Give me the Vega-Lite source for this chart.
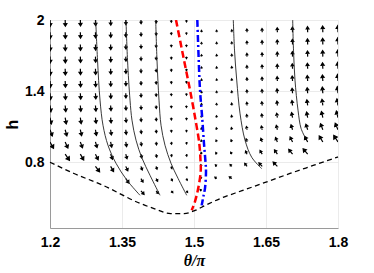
{
  "$schema": "https://vega.github.io/schema/vega-lite/v6.json",
  "width": 288,
  "height": 208,
  "autosize": {"type": "none"},
  "padding": {"left": 50, "top": 20, "right": 36, "bottom": 45},
  "config": {
    "view": {"stroke": null},
    "axis": {
      "grid": true, "gridColor": "#e6e6e6", "gridWidth": 0.8,
      "domainColor": "#9a9a9a", "domainWidth": 1,
      "ticks": false,
      "labelFont": "Liberation Sans", "labelFontWeight": "bold", "labelFontSize": 14, "labelColor": "#000000",
      "titleColor": "#000000", "labelFlush": false
    }
  },
  "layer": [
    {
      "data": {"values": [
        {"t":1.2,"h":2,"a":178,"m":6.5},{"t":1.2,"h":1.897,"a":178,"m":6.5},{"t":1.2,"h":1.794,"a":178,"m":6.5},{"t":1.2,"h":1.691,"a":178,"m":6.5},{"t":1.2,"h":1.588,"a":177,"m":6.5},{"t":1.2,"h":1.485,"a":176,"m":6.5},{"t":1.2,"h":1.382,"a":175,"m":6.5},{"t":1.2,"h":1.279,"a":172,"m":6.6},{"t":1.2,"h":1.176,"a":168,"m":6.7},{"t":1.2,"h":1.074,"a":160,"m":6.9},{"t":1.2,"h":0.971,"a":151,"m":7.5},
        {"t":1.2316,"h":2,"a":178,"m":6.3},{"t":1.2316,"h":1.897,"a":178,"m":6.3},{"t":1.2316,"h":1.794,"a":178,"m":6.3},{"t":1.2316,"h":1.691,"a":178,"m":6.3},{"t":1.2316,"h":1.588,"a":178,"m":6.3},{"t":1.2316,"h":1.485,"a":177,"m":6.3},{"t":1.2316,"h":1.382,"a":176,"m":6.3},{"t":1.2316,"h":1.279,"a":174,"m":6.3},{"t":1.2316,"h":1.176,"a":170,"m":6.4},{"t":1.2316,"h":1.074,"a":165,"m":6.5},{"t":1.2316,"h":0.971,"a":156,"m":6.9},{"t":1.2316,"h":0.868,"a":145,"m":7.7},
        {"t":1.2632,"h":2,"a":178,"m":6.0},{"t":1.2632,"h":1.897,"a":178,"m":6.0},{"t":1.2632,"h":1.794,"a":178,"m":6.0},{"t":1.2632,"h":1.691,"a":178,"m":6.0},{"t":1.2632,"h":1.588,"a":178,"m":6.0},{"t":1.2632,"h":1.485,"a":177,"m":6.0},{"t":1.2632,"h":1.382,"a":176,"m":6.0},{"t":1.2632,"h":1.279,"a":175,"m":6.0},{"t":1.2632,"h":1.176,"a":172,"m":6.1},{"t":1.2632,"h":1.074,"a":168,"m":6.1},{"t":1.2632,"h":0.971,"a":160,"m":6.4},{"t":1.2632,"h":0.868,"a":150,"m":6.9},
        {"t":1.2947,"h":2,"a":178,"m":5.7},{"t":1.2947,"h":1.897,"a":178,"m":5.7},{"t":1.2947,"h":1.794,"a":178,"m":5.7},{"t":1.2947,"h":1.691,"a":178,"m":5.7},{"t":1.2947,"h":1.588,"a":178,"m":5.7},{"t":1.2947,"h":1.485,"a":177,"m":5.7},{"t":1.2947,"h":1.382,"a":176,"m":5.7},{"t":1.2947,"h":1.279,"a":175,"m":5.7},{"t":1.2947,"h":1.176,"a":173,"m":5.7},{"t":1.2947,"h":1.074,"a":170,"m":5.8},{"t":1.2947,"h":0.971,"a":164,"m":5.9},{"t":1.2947,"h":0.868,"a":154,"m":6.3},{"t":1.2947,"h":0.765,"a":143,"m":7.1},
        {"t":1.3263,"h":2,"a":178,"m":5.2},{"t":1.3263,"h":1.897,"a":178,"m":5.2},{"t":1.3263,"h":1.794,"a":178,"m":5.2},{"t":1.3263,"h":1.691,"a":178,"m":5.2},{"t":1.3263,"h":1.588,"a":178,"m":5.2},{"t":1.3263,"h":1.485,"a":178,"m":5.2},{"t":1.3263,"h":1.382,"a":177,"m":5.2},{"t":1.3263,"h":1.279,"a":176,"m":5.2},{"t":1.3263,"h":1.176,"a":175,"m":5.2},{"t":1.3263,"h":1.074,"a":172,"m":5.3},{"t":1.3263,"h":0.971,"a":168,"m":5.3},{"t":1.3263,"h":0.868,"a":160,"m":5.5},{"t":1.3263,"h":0.765,"a":150,"m":6.0},
        {"t":1.3579,"h":2,"a":178,"m":4.5},{"t":1.3579,"h":1.897,"a":178,"m":4.5},{"t":1.3579,"h":1.794,"a":178,"m":4.5},{"t":1.3579,"h":1.691,"a":178,"m":4.5},{"t":1.3579,"h":1.588,"a":178,"m":4.5},{"t":1.3579,"h":1.485,"a":178,"m":4.5},{"t":1.3579,"h":1.382,"a":178,"m":4.5},{"t":1.3579,"h":1.279,"a":177,"m":4.5},{"t":1.3579,"h":1.176,"a":175,"m":4.5},{"t":1.3579,"h":1.074,"a":174,"m":4.5},{"t":1.3579,"h":0.971,"a":170,"m":4.6},{"t":1.3579,"h":0.868,"a":165,"m":4.7},{"t":1.3579,"h":0.765,"a":156,"m":4.9},{"t":1.3579,"h":0.662,"a":145,"m":5.5},
        {"t":1.3895,"h":2,"a":178,"m":3.5},{"t":1.3895,"h":1.897,"a":178,"m":3.5},{"t":1.3895,"h":1.794,"a":178,"m":3.5},{"t":1.3895,"h":1.691,"a":178,"m":3.5},{"t":1.3895,"h":1.588,"a":178,"m":3.5},{"t":1.3895,"h":1.485,"a":178,"m":3.5},{"t":1.3895,"h":1.382,"a":178,"m":3.5},{"t":1.3895,"h":1.279,"a":177,"m":3.5},{"t":1.3895,"h":1.176,"a":176,"m":3.5},{"t":1.3895,"h":1.074,"a":174,"m":3.5},{"t":1.3895,"h":0.971,"a":172,"m":3.5},{"t":1.3895,"h":0.868,"a":168,"m":3.6},{"t":1.3895,"h":0.765,"a":160,"m":3.7},{"t":1.3895,"h":0.662,"a":150,"m":4.0},{"t":1.3895,"h":0.559,"a":139,"m":4.7},
        {"t":1.4211,"h":2,"a":178,"m":2.5},{"t":1.4211,"h":1.897,"a":178,"m":2.5},{"t":1.4211,"h":1.794,"a":178,"m":2.5},{"t":1.4211,"h":1.691,"a":178,"m":2.5},{"t":1.4211,"h":1.588,"a":178,"m":2.5},{"t":1.4211,"h":1.485,"a":178,"m":2.5},{"t":1.4211,"h":1.382,"a":178,"m":2.5},{"t":1.4211,"h":1.279,"a":177,"m":2.5},{"t":1.4211,"h":1.176,"a":176,"m":2.5},{"t":1.4211,"h":1.074,"a":175,"m":2.5},{"t":1.4211,"h":0.971,"a":172,"m":2.5},{"t":1.4211,"h":0.868,"a":169,"m":2.6},{"t":1.4211,"h":0.765,"a":163,"m":2.6},{"t":1.4211,"h":0.662,"a":152,"m":2.8},{"t":1.4211,"h":0.559,"a":141,"m":3.2},
        {"t":1.4526,"h":2,"a":177,"m":1.5},{"t":1.4526,"h":1.897,"a":177,"m":1.5},{"t":1.4526,"h":1.794,"a":177,"m":1.5},{"t":1.4526,"h":1.691,"a":177,"m":1.5},{"t":1.4526,"h":1.588,"a":177,"m":1.5},{"t":1.4526,"h":1.485,"a":177,"m":1.5},{"t":1.4526,"h":1.382,"a":177,"m":1.5},{"t":1.4526,"h":1.279,"a":177,"m":1.5},{"t":1.4526,"h":1.176,"a":176,"m":1.5},{"t":1.4526,"h":1.074,"a":175,"m":1.5},{"t":1.4526,"h":0.971,"a":172,"m":1.5},{"t":1.4526,"h":0.868,"a":169,"m":1.5},{"t":1.4526,"h":0.765,"a":164,"m":1.6},{"t":1.4526,"h":0.662,"a":153,"m":1.7},{"t":1.4526,"h":0.559,"a":141,"m":1.9},
        {"t":1.4842,"h":2,"a":178,"m":0.8},{"t":1.4842,"h":1.897,"a":178,"m":0.8},{"t":1.4842,"h":1.794,"a":178,"m":0.8},{"t":1.4842,"h":1.691,"a":178,"m":0.8},{"t":1.4842,"h":1.588,"a":178,"m":0.8},{"t":1.4842,"h":1.485,"a":178,"m":0.8},{"t":1.4842,"h":1.382,"a":178,"m":0.8},{"t":1.4842,"h":1.279,"a":178,"m":0.8},{"t":1.4842,"h":1.176,"a":176,"m":0.8},{"t":1.4842,"h":1.074,"a":175,"m":0.8},{"t":1.4842,"h":0.971,"a":173,"m":0.8},{"t":1.4842,"h":0.868,"a":170,"m":0.8},{"t":1.4842,"h":0.765,"a":165,"m":0.8},{"t":1.4842,"h":0.662,"a":156,"m":0.9},{"t":1.4842,"h":0.559,"a":144,"m":1.0},
        {"t":1.5158,"h":2,"a":357,"m":0.6},{"t":1.5158,"h":1.897,"a":357,"m":0.6},{"t":1.5158,"h":1.794,"a":357,"m":0.6},{"t":1.5158,"h":1.691,"a":357,"m":0.6},{"t":1.5158,"h":1.588,"a":357,"m":0.6},{"t":1.5158,"h":1.485,"a":357,"m":0.6},{"t":1.5158,"h":1.382,"a":357,"m":0.6},{"t":1.5158,"h":1.279,"a":356,"m":0.6},{"t":1.5158,"h":1.176,"a":354,"m":0.6},{"t":1.5158,"h":1.074,"a":353,"m":0.6},{"t":1.5158,"h":0.971,"a":349,"m":0.6},{"t":1.5158,"h":0.868,"a":344,"m":0.6},{"t":1.5158,"h":0.765,"a":335,"m":0.7},{"t":1.5158,"h":0.662,"a":323,"m":0.8},{"t":1.5158,"h":0.559,"a":310,"m":0.9},
        {"t":1.5474,"h":2,"a":355,"m":0.9},{"t":1.5474,"h":1.897,"a":355,"m":0.9},{"t":1.5474,"h":1.794,"a":355,"m":0.9},{"t":1.5474,"h":1.691,"a":355,"m":0.9},{"t":1.5474,"h":1.588,"a":355,"m":0.9},{"t":1.5474,"h":1.485,"a":355,"m":0.9},{"t":1.5474,"h":1.382,"a":355,"m":0.9},{"t":1.5474,"h":1.279,"a":353,"m":0.9},{"t":1.5474,"h":1.176,"a":351,"m":0.9},{"t":1.5474,"h":1.074,"a":347,"m":0.9},{"t":1.5474,"h":0.971,"a":341,"m":1.0},{"t":1.5474,"h":0.868,"a":332,"m":1.0},{"t":1.5474,"h":0.765,"a":319,"m":1.2},{"t":1.5474,"h":0.662,"a":305,"m":1.6},
        {"t":1.5789,"h":2,"a":356,"m":1.5},{"t":1.5789,"h":1.897,"a":356,"m":1.5},{"t":1.5789,"h":1.794,"a":356,"m":1.5},{"t":1.5789,"h":1.691,"a":356,"m":1.5},{"t":1.5789,"h":1.588,"a":356,"m":1.5},{"t":1.5789,"h":1.485,"a":356,"m":1.5},{"t":1.5789,"h":1.382,"a":355,"m":1.5},{"t":1.5789,"h":1.279,"a":353,"m":1.5},{"t":1.5789,"h":1.176,"a":351,"m":1.5},{"t":1.5789,"h":1.074,"a":347,"m":1.5},{"t":1.5789,"h":0.971,"a":340,"m":1.6},{"t":1.5789,"h":0.868,"a":330,"m":1.7},{"t":1.5789,"h":0.765,"a":316,"m":2.1},{"t":1.5789,"h":0.662,"a":304,"m":2.7},
        {"t":1.6105,"h":2,"a":357,"m":2.8},{"t":1.6105,"h":1.897,"a":357,"m":2.8},{"t":1.6105,"h":1.794,"a":357,"m":2.8},{"t":1.6105,"h":1.691,"a":357,"m":2.8},{"t":1.6105,"h":1.588,"a":357,"m":2.8},{"t":1.6105,"h":1.485,"a":357,"m":2.8},{"t":1.6105,"h":1.382,"a":356,"m":2.8},{"t":1.6105,"h":1.279,"a":355,"m":2.8},{"t":1.6105,"h":1.176,"a":353,"m":2.8},{"t":1.6105,"h":1.074,"a":349,"m":2.9},{"t":1.6105,"h":0.971,"a":344,"m":2.9},{"t":1.6105,"h":0.868,"a":334,"m":3.1},{"t":1.6105,"h":0.765,"a":322,"m":3.6},
        {"t":1.6421,"h":2,"a":357,"m":3.5},{"t":1.6421,"h":1.897,"a":357,"m":3.5},{"t":1.6421,"h":1.794,"a":357,"m":3.5},{"t":1.6421,"h":1.691,"a":357,"m":3.5},{"t":1.6421,"h":1.588,"a":357,"m":3.5},{"t":1.6421,"h":1.485,"a":357,"m":3.5},{"t":1.6421,"h":1.382,"a":356,"m":3.5},{"t":1.6421,"h":1.279,"a":354,"m":3.5},{"t":1.6421,"h":1.176,"a":352,"m":3.5},{"t":1.6421,"h":1.074,"a":347,"m":3.6},{"t":1.6421,"h":0.971,"a":340,"m":3.7},{"t":1.6421,"h":0.868,"a":329,"m":4.1},{"t":1.6421,"h":0.765,"a":317,"m":4.8},
        {"t":1.6737,"h":2,"a":358,"m":4.3},{"t":1.6737,"h":1.897,"a":358,"m":4.3},{"t":1.6737,"h":1.794,"a":358,"m":4.3},{"t":1.6737,"h":1.691,"a":358,"m":4.3},{"t":1.6737,"h":1.588,"a":358,"m":4.3},{"t":1.6737,"h":1.485,"a":357,"m":4.3},{"t":1.6737,"h":1.382,"a":355,"m":4.3},{"t":1.6737,"h":1.279,"a":354,"m":4.3},{"t":1.6737,"h":1.176,"a":351,"m":4.4},{"t":1.6737,"h":1.074,"a":346,"m":4.4},{"t":1.6737,"h":0.971,"a":337,"m":4.7},{"t":1.6737,"h":0.868,"a":326,"m":5.2},{"t":1.6737,"h":0.765,"a":315,"m":6.1},
        {"t":1.7053,"h":2,"a":358,"m":5.0},{"t":1.7053,"h":1.897,"a":358,"m":5.0},{"t":1.7053,"h":1.794,"a":358,"m":5.0},{"t":1.7053,"h":1.691,"a":358,"m":5.0},{"t":1.7053,"h":1.588,"a":357,"m":5.0},{"t":1.7053,"h":1.485,"a":356,"m":5.0},{"t":1.7053,"h":1.382,"a":355,"m":5.0},{"t":1.7053,"h":1.279,"a":353,"m":5.0},{"t":1.7053,"h":1.176,"a":349,"m":5.1},{"t":1.7053,"h":1.074,"a":343,"m":5.2},{"t":1.7053,"h":0.971,"a":334,"m":5.6},{"t":1.7053,"h":0.868,"a":322,"m":6.3},
        {"t":1.7368,"h":2,"a":358,"m":5.6},{"t":1.7368,"h":1.897,"a":358,"m":5.6},{"t":1.7368,"h":1.794,"a":358,"m":5.6},{"t":1.7368,"h":1.691,"a":358,"m":5.6},{"t":1.7368,"h":1.588,"a":357,"m":5.6},{"t":1.7368,"h":1.485,"a":356,"m":5.6},{"t":1.7368,"h":1.382,"a":355,"m":5.6},{"t":1.7368,"h":1.279,"a":352,"m":5.7},{"t":1.7368,"h":1.176,"a":349,"m":5.7},{"t":1.7368,"h":1.074,"a":342,"m":5.9},{"t":1.7368,"h":0.971,"a":332,"m":6.4},{"t":1.7368,"h":0.868,"a":320,"m":7.3},
        {"t":1.7684,"h":2,"a":358,"m":6.2},{"t":1.7684,"h":1.897,"a":358,"m":6.2},{"t":1.7684,"h":1.794,"a":358,"m":6.2},{"t":1.7684,"h":1.691,"a":358,"m":6.2},{"t":1.7684,"h":1.588,"a":357,"m":6.2},{"t":1.7684,"h":1.485,"a":356,"m":6.2},{"t":1.7684,"h":1.382,"a":355,"m":6.2},{"t":1.7684,"h":1.279,"a":352,"m":6.3},{"t":1.7684,"h":1.176,"a":347,"m":6.4},{"t":1.7684,"h":1.074,"a":339,"m":6.6},{"t":1.7684,"h":0.971,"a":329,"m":7.2},
        {"t":1.8,"h":2,"a":358,"m":6.8},{"t":1.8,"h":1.897,"a":358,"m":6.8},{"t":1.8,"h":1.794,"a":358,"m":6.8},{"t":1.8,"h":1.691,"a":358,"m":6.8},{"t":1.8,"h":1.588,"a":357,"m":6.8},{"t":1.8,"h":1.485,"a":356,"m":6.8},{"t":1.8,"h":1.382,"a":354,"m":6.8},{"t":1.8,"h":1.279,"a":351,"m":6.9},{"t":1.8,"h":1.176,"a":346,"m":7.0},{"t":1.8,"h":1.074,"a":337,"m":7.4},{"t":1.8,"h":0.971,"a":327,"m":8.1}
      ]},
      "mark": {"type": "point", "shape": "M0,0L0,-1.3M-0.5,-1.2L0,-2L0.5,-1.2Z", "fill": "#000000", "stroke": "#000000", "strokeWidth": 1.2, "strokeJoin": "miter", "opacity": 1, "clip": true},
      "encoding": {
        "x": {"field": "t", "type": "quantitative", "scale": {"domain": [1.2, 1.8], "nice": false, "zero": false},
              "axis": {"values": [1.2, 1.35, 1.5, 1.65, 1.8], "format": ".3~g", "labelPadding": 7, "title": "θ/π",
                       "titleFont": "Liberation Serif", "titleFontStyle": "italic", "titleFontWeight": "bold", "titleFontSize": 16, "titlePadding": 3}},
        "y": {"field": "h", "type": "quantitative", "scale": {"domain": [0.245, 2], "nice": false, "zero": false},
              "axis": {"values": [0.8, 1.4, 2], "format": ".3~g", "labelPadding": 6, "title": "h",
                       "titleFont": "Liberation Sans", "titleFontWeight": "bold", "titleFontSize": 16, "titlePadding": 4}},
        "angle": {"field": "a", "type": "quantitative", "scale": {"domain": [0, 360], "range": [0, 360]}},
        "size": {"field": "m", "type": "quantitative", "scale": {"type": "pow", "exponent": 2, "domain": [0, 10], "range": [3, 90]}, "legend": null}
      }
    },
    {
      "data": {"values": [
        {"c":"s1","k":0,"t":1.2952,"h":2.0},{"c":"s1","k":1,"t":1.299,"h":1.662},{"c":"s1","k":2,"t":1.3042,"h":1.324},{"c":"s1","k":3,"t":1.3104,"h":1.112},{"c":"s1","k":4,"t":1.3208,"h":0.943},{"c":"s1","k":5,"t":1.3375,"h":0.791},{"c":"s1","k":6,"t":1.3604,"h":0.648},{"c":"s1","k":7,"t":1.3875,"h":0.521},
        {"c":"s2","k":0,"t":1.3583,"h":2.0},{"c":"s2","k":1,"t":1.3615,"h":1.662},{"c":"s2","k":2,"t":1.3667,"h":1.324},{"c":"s2","k":3,"t":1.3708,"h":1.155},{"c":"s2","k":4,"t":1.3792,"h":0.986},{"c":"s2","k":5,"t":1.3917,"h":0.834},{"c":"s2","k":6,"t":1.4083,"h":0.69},{"c":"s2","k":7,"t":1.4292,"h":0.521},
        {"c":"s3","k":0,"t":1.4202,"h":2.0},{"c":"s3","k":1,"t":1.4229,"h":1.662},{"c":"s3","k":2,"t":1.4271,"h":1.324},{"c":"s3","k":3,"t":1.4313,"h":1.112},{"c":"s3","k":4,"t":1.4396,"h":0.943},{"c":"s3","k":5,"t":1.4521,"h":0.791},{"c":"s3","k":6,"t":1.4667,"h":0.664},{"c":"s3","k":7,"t":1.4848,"h":0.521},
        {"c":"s4","k":0,"t":1.5819,"h":2.0},{"c":"s4","k":1,"t":1.5844,"h":1.746},{"c":"s4","k":2,"t":1.589,"h":1.493},{"c":"s4","k":3,"t":1.5958,"h":1.214},{"c":"s4","k":4,"t":1.6063,"h":0.986},{"c":"s4","k":5,"t":1.6202,"h":0.842},{"c":"s4","k":6,"t":1.641,"h":0.746},
        {"c":"s5","k":0,"t":1.7056,"h":2.0},{"c":"s5","k":1,"t":1.7073,"h":1.746},{"c":"s5","k":2,"t":1.7104,"h":1.493},{"c":"s5","k":3,"t":1.7167,"h":1.239},{"c":"s5","k":4,"t":1.7229,"h":1.087},{"c":"s5","k":5,"t":1.7313,"h":1.011}
      ]},
      "mark": {"type": "line", "stroke": "#222222", "strokeWidth": 0.9, "interpolate": "catmull-rom", "clip": true},
      "encoding": {
        "x": {"field": "t", "type": "quantitative"},
        "y": {"field": "h", "type": "quantitative"},
        "detail": {"field": "c"},
        "order": {"field": "k", "type": "quantitative"}
      }
    },
    {
      "data": {"values": [
        {"k":0,"t":1.4625,"h":2.0},{"k":1,"t":1.4722,"h":1.803},{"k":2,"t":1.482,"h":1.605},{"k":3,"t":1.4917,"h":1.408},{"k":4,"t":1.502,"h":1.183},{"k":5,"t":1.511,"h":0.958},{"k":6,"t":1.5135,"h":0.82},{"k":7,"t":1.514,"h":0.724},{"k":8,"t":1.509,"h":0.584},{"k":9,"t":1.502,"h":0.468},{"k":10,"t":1.4952,"h":0.394}
      ]},
      "mark": {"type": "line", "stroke": "#ff0000", "strokeWidth": 2.5, "strokeDash": [7, 3.5], "interpolate": "catmull-rom", "clip": true},
      "encoding": {
        "x": {"field": "t", "type": "quantitative"},
        "y": {"field": "h", "type": "quantitative"},
        "order": {"field": "k", "type": "quantitative"}
      }
    },
    {
      "data": {"values": [
        {"k":0,"t":1.5069,"h":2.0},{"k":1,"t":1.5095,"h":1.7},{"k":2,"t":1.5125,"h":1.41},{"k":3,"t":1.517,"h":1.18},{"k":4,"t":1.5208,"h":0.958},{"k":5,"t":1.524,"h":0.8},{"k":6,"t":1.525,"h":0.724},{"k":7,"t":1.523,"h":0.584},{"k":8,"t":1.519,"h":0.5},{"k":9,"t":1.516,"h":0.436}
      ]},
      "mark": {"type": "line", "stroke": "#0000ff", "strokeWidth": 2.5, "strokeDash": [7, 3, 2, 3], "interpolate": "catmull-rom", "clip": true},
      "encoding": {
        "x": {"field": "t", "type": "quantitative"},
        "y": {"field": "h", "type": "quantitative"},
        "order": {"field": "k", "type": "quantitative"}
      }
    },
    {
      "data": {"values": [
        {"k":0,"t":1.2,"h":0.8},{"k":1,"t":1.25,"h":0.705},{"k":2,"t":1.31,"h":0.606},{"k":3,"t":1.3875,"h":0.453},{"k":4,"t":1.4167,"h":0.409},{"k":5,"t":1.4514,"h":0.367},{"k":6,"t":1.4792,"h":0.367},{"k":7,"t":1.5035,"h":0.395},{"k":8,"t":1.524,"h":0.437},{"k":9,"t":1.555,"h":0.494},{"k":10,"t":1.6,"h":0.56},{"k":11,"t":1.65,"h":0.632},{"k":12,"t":1.7,"h":0.705},{"k":13,"t":1.75,"h":0.775},{"k":14,"t":1.8,"h":0.845}
      ]},
      "mark": {"type": "line", "stroke": "#000000", "strokeWidth": 1.3, "strokeDash": [5, 3.5], "interpolate": "monotone"},
      "encoding": {
        "x": {"field": "t", "type": "quantitative"},
        "y": {"field": "h", "type": "quantitative"},
        "order": {"field": "k", "type": "quantitative"}
      }
    }
  ]
}
